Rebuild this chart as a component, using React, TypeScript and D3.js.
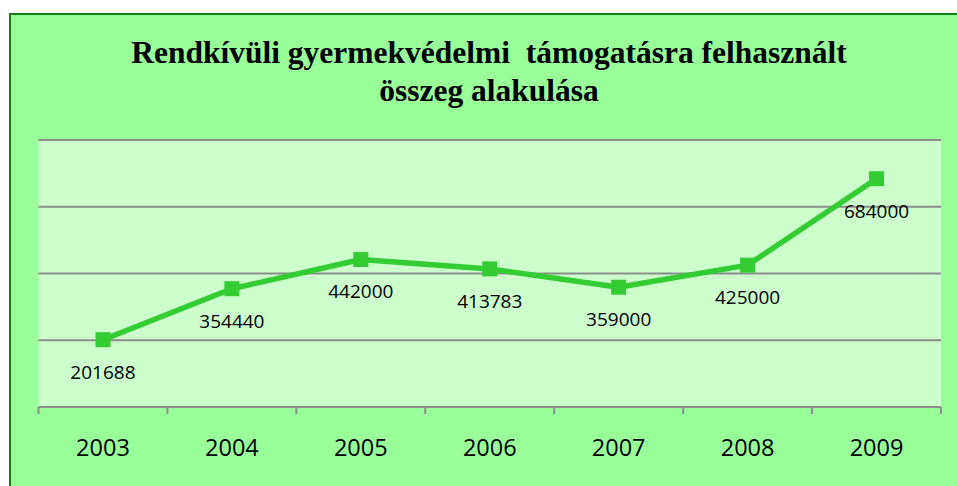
import React from "react";
import * as d3 from "d3";

const years = ["2003", "2004", "2005", "2006", "2007", "2008", "2009"];
const values = [201688, 354440, 442000, 413783, 359000, 425000, 684000];
const yTicks = [0, 200000, 400000, 600000, 800000];
const titleLines = ["Rendkívüli gyermekvédelmi  támogatásra felhasznált", "összeg alakulása"];

export default function App() {
  const W = 957, H = 486;
  const left = 38.5, right = 941, top = 140, bottom = 407;
  const x = d3.scaleBand<string>().domain(years).range([left, right]).padding(0);
  const y = d3.scaleLinear().domain([0, 800000]).range([bottom, top]);
  const cx = (d: string) => (x(d) as number) + x.bandwidth() / 2;
  const line = d3.line<number>().x((_, i) => cx(years[i])).y((v) => y(v));
  const boundaries = years.map((d) => x(d) as number).concat([right]);
  const ms = 15;
  return (
    <svg width={W} height={H} style={{ position: "absolute", left: 0, top: 0 }}>
      <rect x={0} y={0} width={W} height={H} fill="#ffffff" />
      <rect x={10} y={14} width={W + 20} height={H + 20} fill="#99ff99" stroke="#0f7f0f" strokeWidth={2} />
      <rect x={left} y={top} width={right - left} height={bottom - top} fill="#ccffcc" />
      {yTicks.map((t) => (
        <line key={t} x1={left} x2={right} y1={y(t)} y2={y(t)} stroke="#8c8c8c" strokeWidth={2} />
      ))}
      {boundaries.map((b, i) => (
        <line key={i} x1={b} x2={b} y1={bottom} y2={bottom + 7} stroke="#8c8c8c" strokeWidth={2} />
      ))}
      {titleLines.map((t, i) => (
        <text key={i} x={489} y={63 + i * 38} textAnchor="middle" fontFamily="'Liberation Serif', 'Times New Roman', serif" fontWeight="bold" fontSize={31.5} fill="#000" style={{ whiteSpace: "pre" }}>
          {t}
        </text>
      ))}
      <path d={line(values) || ""} fill="none" stroke="#33cc33" strokeWidth={5.5} strokeLinejoin="round" />
      {values.map((v, i) => (
        <rect key={i} x={cx(years[i]) - ms / 2} y={y(v) - ms / 2} width={ms} height={ms} fill="#33cc33" />
      ))}
      {values.map((v, i) => (
        <text key={"l" + i} x={cx(years[i])} y={y(v) + 39} textAnchor="middle" fontFamily="'Open Sans', sans-serif" fontSize={19} fill="#000">
          {v}
        </text>
      ))}
      {years.map((d) => (
        <text key={d} x={cx(d)} y={456} textAnchor="middle" fontFamily="'Open Sans', sans-serif" fontSize={23.5} fill="#000">
          {d}
        </text>
      ))}
    </svg>
  );
}
